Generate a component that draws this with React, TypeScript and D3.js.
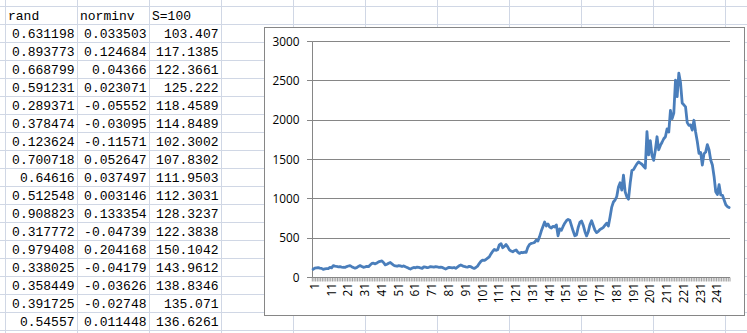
import React from 'react';
import * as d3 from 'd3';

// ---- spreadsheet table data (columns A-C) ----
const colHeaders = ['rand', 'norminv', 'S=100'];
const randCol = [0.631198, 0.893773, 0.668799, 0.591231, 0.289371, 0.378474, 0.123624, 0.700718, 0.64616, 0.512548, 0.908823, 0.317772, 0.979408, 0.338025, 0.358449, 0.391725, 0.54557];
const norminvCol = [0.033503, 0.124684, 0.04366, 0.023071, -0.05552, -0.03095, -0.11571, 0.052647, 0.037497, 0.003146, 0.133354, -0.04739, 0.204168, -0.04179, -0.03626, -0.02748, 0.011448];
const sHead = [103.407, 117.1385, 122.3661, 125.222, 118.4589, 114.8489, 102.3002, 107.8302, 111.9503, 112.3031, 128.3237, 122.3838, 150.1042, 143.9612, 138.8346, 135.071, 136.6261];

// ---- rest of the S series, periods 18..249 ----
const sFlat = [
  132, 129, 127, 138, 145, 150, 137, 126, 118, 124, 139, 150, 140,
  129, 133, 140, 136, 158, 178, 181, 172, 184, 197,
  205, 210, 188, 160, 168, 180, 190, 172, 155, 146,
  142, 150, 147, 139, 146, 135, 126, 115, 106, 118,
  127, 122, 131, 128, 120, 114, 135, 130, 124, 129,
  138, 135, 131, 136, 133, 129, 132, 127, 116, 107,
  118, 128, 124, 120, 126, 116, 132, 148, 158, 147,
  140, 134, 130, 141, 136, 124, 114, 126, 142, 176,
];
const sGrowth = [
  203, 220, 216, 228, 245, 262, 300, 330, 356, 345,
  352, 415, 430, 378, 395, 418, 388, 350, 335, 326,
  340, 350, 322, 305, 318, 314, 322, 318, 385, 420,
  432, 438, 445, 474, 462, 520, 590, 648, 705, 655,
  680, 640, 628, 650, 642, 668, 530, 618, 600, 648,
  690, 722, 738, 728, 660, 590, 530, 540, 635, 700,
  718, 665, 585, 528, 580, 670, 722, 660, 600, 570,
  585, 610, 622, 638, 665, 690, 655, 770, 895, 960,
];
const sPeak = [
  985, 1030, 1150, 1205, 1110, 1300, 1090, 1025, 995, 1200,
  1360, 1372, 1410, 1445, 1470, 1455, 1440, 1415, 1390, 1855,
  1560, 1740, 1550, 1490, 1620, 1790, 1625, 1680, 1720, 1765,
  1790, 1890, 1850, 2125, 2020, 2090, 2510, 2300, 2600, 2480,
  2220, 2195, 2170, 1970, 1935, 1940, 1875, 2000, 1850, 1730,
  1580, 1590, 1430, 1575, 1595, 1690, 1625, 1495, 1430, 1285,
  1090, 1055, 1180, 1050, 1045, 985, 925, 900, 890,
];

const yTicks = [0, 500, 1000, 1500, 2000, 2500, 3000];

const series = [...sHead, ...sFlat, ...sGrowth, ...sPeak];
const categories = series.map((_, i) => i + 1);
const xLabels = categories.filter((c) => (c - 1) % 10 === 0);

const W = 747;
const H = 333;
const GRID = '#d0d7e5';
const AXIS = '#868686';
const LINE = '#4a7ebb';
const crisp = (v: number) => Math.floor(v) + 0.5;

export default function App() {
  const x = d3.scaleBand<number>().domain(categories).range([312.3, 730]).paddingInner(0).paddingOuter(0);
  const y = d3.scaleLinear().domain([0, 3000]).range([277.4, 41.7]);
  const bw = x.bandwidth();
  const cx = (c: number) => (x(c) as number) + bw / 2;

  const linePath = d3
    .line<number>()
    .x((_, i) => cx(categories[i]))
    .y((d) => y(d))(series) as string;

  const colLines = d3.range(0, 11).map((k) => 5.5 + 72 * k);
  const rowLines = d3.range(0, 19).map((k) => 6.5 + 18 * k);
  const tableCols = [randCol, norminvCol, sHead];
  const colRight = [77.5, 149.5, 221.5];

  const combX = [...categories.map((c) => x(c) as number), 730];

  return (
    <svg
      width={W}
      height={H}
      style={{ position: 'absolute', left: 0, top: 0, background: '#fff' }}
    >
      <rect x={0} y={0} width={W} height={H} fill="#fff" />
      {/* spreadsheet gridlines */}
      {rowLines.map((ry) => (
        <line key={'r' + ry} x1={0} x2={W} y1={ry} y2={ry} stroke={GRID} strokeWidth={1} />
      ))}
      {colLines.map((cxl) => (
        <line key={'c' + cxl} x1={cxl} x2={cxl} y1={0} y2={H} stroke={GRID} strokeWidth={1} />
      ))}
      {/* header */}
      {colHeaders.map((h, j) => (
        <text
          key={'h' + j}
          x={colLines[j] + 2.5}
          y={rowLines[0] + 13}
          fontFamily="'Liberation Mono', 'DejaVu Sans Mono', monospace"
          fontSize={13}
          fill="#000"
        >
          {h}
        </text>
      ))}
      {/* table values */}
      {tableCols.map((col, j) =>
        col.map((v, i) => (
          <text
            key={'t' + j + '-' + i}
            x={colRight[j] - 3}
            y={rowLines[i + 1] + 13}
            textAnchor="end"
            fontFamily="'Liberation Mono', 'DejaVu Sans Mono', monospace"
            fontSize={13}
            fill="#000"
          >
            {String(v)}
          </text>
        ))
      )}

      {/* chart area */}
      <rect x={264.5} y={27.5} width={480} height={288} fill="#fff" stroke={AXIS} strokeWidth={1} />

      {/* gridlines */}
      {yTicks.map((t) => (
        <line key={'g' + t} x1={312.3} x2={730} y1={crisp(y(t))} y2={crisp(y(t))} stroke={AXIS} strokeWidth={1} />
      ))}
      {/* y axis */}
      <line x1={312.5} x2={312.5} y1={crisp(y(3000))} y2={crisp(y(0))} stroke={AXIS} />
      {yTicks.map((t) => (
        <g key={'yt' + t}>
          <line x1={307} x2={312.5} y1={crisp(y(t))} y2={crisp(y(t))} stroke={AXIS} />
          <text
            x={299.5}
            y={y(t)}
            dy="0.35em"
            textAnchor="end"
            fontFamily="'Open Sans', Lato, sans-serif"
            fontSize={11.8}
            fill="#000"
          >
            {t}
          </text>
        </g>
      ))}
      {/* x axis comb */}
      {combX.map((cxv, i) => (
        <line key={'xc' + i} x1={cxv} x2={cxv} y1={crisp(y(0))} y2={crisp(y(0)) + 4} stroke={AXIS} strokeWidth={0.8} />
      ))}
      {xLabels.map((c) => (
        <text
          key={'xl' + c}
          transform={`translate(${cx(c) + 1.5},283) rotate(-90)`}
          textAnchor="end"
          dy="0.35em"
          fontFamily="'Open Sans', Lato, sans-serif"
          fontSize={11.8}
          fill="#000"
        >
          {c}
        </text>
      ))}

      {/* series line */}
      <path d={linePath} fill="none" stroke={LINE} strokeWidth={2.8} strokeLinejoin="round" strokeLinecap="round" />
    </svg>
  );
}
